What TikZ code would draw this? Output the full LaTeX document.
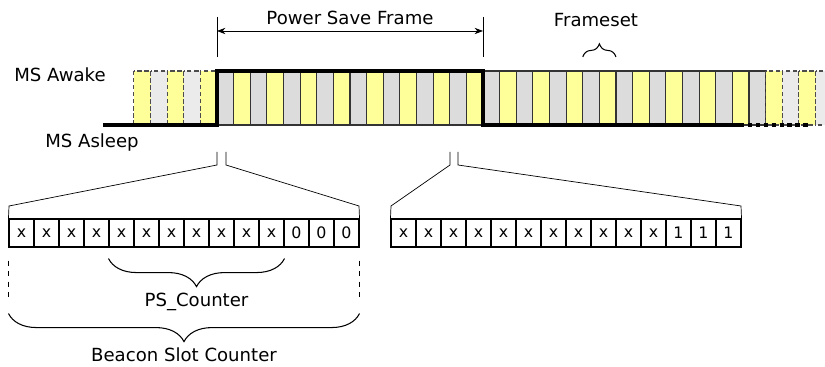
\documentclass[tikz,border=0pt]{standalone}
\usepackage{fontspec}
\setmainfont{DejaVu Sans}
\usetikzlibrary{positioning,arrows.meta,calc,decorations.pathreplacing}

\definecolor{slotyellow}{RGB}{255,255,153}
\definecolor{slotgrey}{RGB}{220,220,220}
\definecolor{slotlight}{RGB}{235,235,235}

\begin{document}
\begin{tikzpicture}[x=0.02cm, y=-0.02cm, >=Stealth, font=\fontsize{10.3}{12}\selectfont,
  slot/.style={draw=black!80, line width=0.6pt},
  ghost/.style={draw=black!70, line width=0.6pt, dash pattern=on 2.5pt off 1.5pt},
  level/.style={line width=1.8pt},
  cell/.style={draw, line width=0.6pt, minimum width=0.5cm, minimum height=0.56cm, inner sep=0pt, font=\small},
  brc/.style={decorate, decoration={brace, amplitude=#1}, line width=0.6pt}]
  \useasboundingbox (0,0) rectangle (825,367);
  \def\w{16.625}

  % slots before the power save frame (dashed)
  \foreach \i in {0,...,4}{
    \ifodd\i \def\c{slotlight}\else \def\c{slotyellow}\fi
    \draw[ghost, fill=\c] ({217-(5-\i)*\w},71) rectangle ++(\w,54);
  }
  % slots of the power save frame and after
  \foreach \i in {0,...,32}{
    \ifodd\i \def\c{slotyellow}\else \def\c{slotgrey}\fi
    \draw[slot, fill=\c] ({217+\i*\w},71) rectangle ++(\w,54);
  }
  % slots at the end (dashed)
  \foreach \i in {0,...,3}{
    \ifodd\i \def\c{slotlight}\else \def\c{slotyellow}\fi
    \draw[ghost, fill=\c] ({217+(33+\i)*\w},71) rectangle ++(\w,54);
  }

  % awake / asleep level
  \coordinate (up) at (217,71);
  \coordinate (down) at (483,71);
  \draw[level] (103,125) -| (up) -- (down) |- (740,125);
  \draw[level, dash pattern=on 2.5pt off 2pt] (740,125) -- (810,125);

  \node (awake) at (60,75) {MS Awake};
  \node (asleep) at (92,143) {MS Asleep};

  % power save frame
  \coordinate (psfl) at (217,17);
  \coordinate (psfr) at (483,17);
  \draw (psfl) -- ++(0,40);
  \draw (psfr) -- ++(0,40);
  \draw[<->] ($(psfl)+(0,14)$) -- ($(psfr)+(0,14)$)
     node[midway, above=0pt] (psf) {Power Save Frame};

  % frameset
  \draw[brc=7.5pt] ({217+22*\w},57) -- ({217+24*\w},57);
  \node (fset) at (596,20) {Frameset};

  % zoom to the first beacon slot
  \foreach \i/\t in {1/x,2/x,3/x,4/x,5/x,6/x,7/x,8/x,9/x,10/x,11/x,12/0,13/0,14/0}{
    \node[cell] (a\i) at ({9+(\i-0.5)*25},233) {\t};
  }
  \draw (217,152) -- (217,165) -- (9,206) -- (a1.north west);
  \draw (226,152) -- (226,165) -- (359,206) -- (a14.north east);

  % zoom to the last beacon slot
  \foreach \i/\t in {1/x,2/x,3/x,4/x,5/x,6/x,7/x,8/x,9/x,10/x,11/x,12/1,13/1,14/1}{
    \node[cell] (b\i) at ({391+(\i-0.5)*25},233) {\t};
  }
  \draw (450,152) -- (450,165) -- (391,206) -- (b1.north west);
  \draw (458,152) -- (458,165) -- (741,206) -- (b14.north east);

  % counters
  \draw[dashed] ($(a1.south west)+(0,13)$) -- ++(0,40);
  \draw[dashed] ($(a14.south east)+(0,13)$) -- ++(0,40);
  \draw[brc=16pt] ($(a11.south east)+(0,11)$) -- ($(a5.south west)+(0,11)$)
     node[midway, below=16pt] (psc) {PS\_Counter};
  \draw[brc=16pt] ($(a14.south east)+(0,66)$) -- ($(a1.south west)+(0,66)$)
     node[midway, below=16pt] (bsc) {Beacon Slot Counter};
\end{tikzpicture}
\end{document}
